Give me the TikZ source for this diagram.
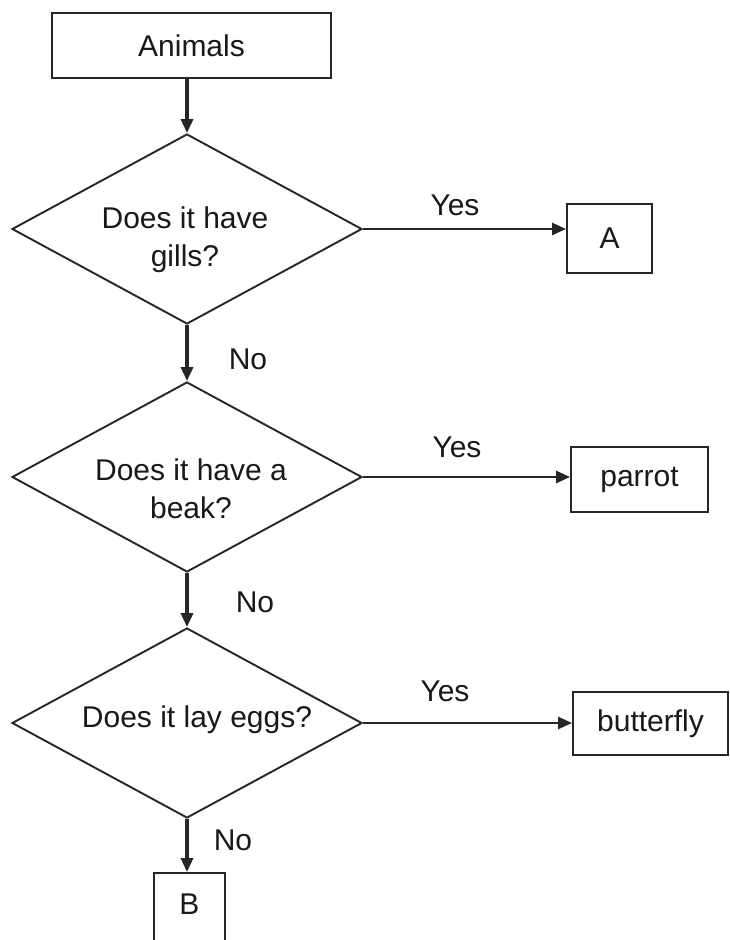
\documentclass[tikz,border=0pt]{standalone}
\usepackage{fontspec}
\setmainfont{Liberation Sans}
\usetikzlibrary{shapes.geometric,arrows.meta}
\begin{document}
\begin{tikzpicture}[x=1pt,y=-1pt,
  every node/.style={font=\fontsize{30}{38}\selectfont, text=black!90},
  box/.style={draw=black!85, line width=1.9pt, inner sep=0pt, rectangle},
  dia/.style={draw=black!85, line width=1.9pt, diamond, inner sep=0pt, minimum width=350pt, minimum height=190pt},
  txt/.style={inner sep=0pt, align=center},
  vflow/.style={line width=3.2pt, draw=black!85, -{Triangle[length=14pt,width=12pt]}},
  hflow/.style={line width=2.5pt, draw=black!85, -{Triangle[length=14pt,width=12pt]}},
  lbl/.style={inner sep=0pt}
]
\clip (0,0) rectangle (730,940);
\fill[white] (0,0) rectangle (730,940);

% boxes
\node[box, minimum width=279pt, minimum height=65pt] (animals) at (191.5,45.5) {Animals};
\node[box, minimum width=85pt, minimum height=69pt] (A) at (609.5,238.5) {A};
\node[box, minimum width=137pt, minimum height=65pt] (parrot) at (639.5,479.5) {parrot};
\node[box, minimum width=155pt, minimum height=63pt] (butterfly) at (650.5,723.5) {butterfly};
\node[box, minimum width=71pt, minimum height=80pt, text height=22pt, text depth=20pt] (B) at (189.5,913) {B};

% diamonds
\node[dia] (d1) at (187,229) {};
\node[dia] (d2) at (187,477) {};
\node[dia] (d3) at (187,723) {};
\node[txt] (t1) at (185,240) {Does it have\\gills?};
\node[txt] (t2) at (191,489) {Does it have a\\beak?};
\node[txt] (t3) at (197,720) {Does it lay eggs?};

% vertical flow
\draw[vflow] (animals.south -| d1.north) -- (d1.north);
\draw[vflow] (d1.south) -- (d2.north);
\draw[vflow] (d2.south) -- (d3.north);
\draw[vflow] (d3.south) -- (d3.south |- B.north);

% horizontal flow
\draw[hflow] (d1.east) -- (d1.east -| A.west);
\draw[hflow] (d2.east) -- (d2.east -| parrot.west);
\draw[hflow] (d3.east) -- (d3.east -| butterfly.west);

% labels
\node[lbl] (y1) at (455,205) {Yes};
\node[lbl] (y2) at (457,447) {Yes};
\node[lbl] (y3) at (445,691) {Yes};
\node[lbl] (n1) at (248,359) {No};
\node[lbl] (n2) at (255,602) {No};
\node[lbl] (n3) at (233,840) {No};
\end{tikzpicture}
\end{document}
